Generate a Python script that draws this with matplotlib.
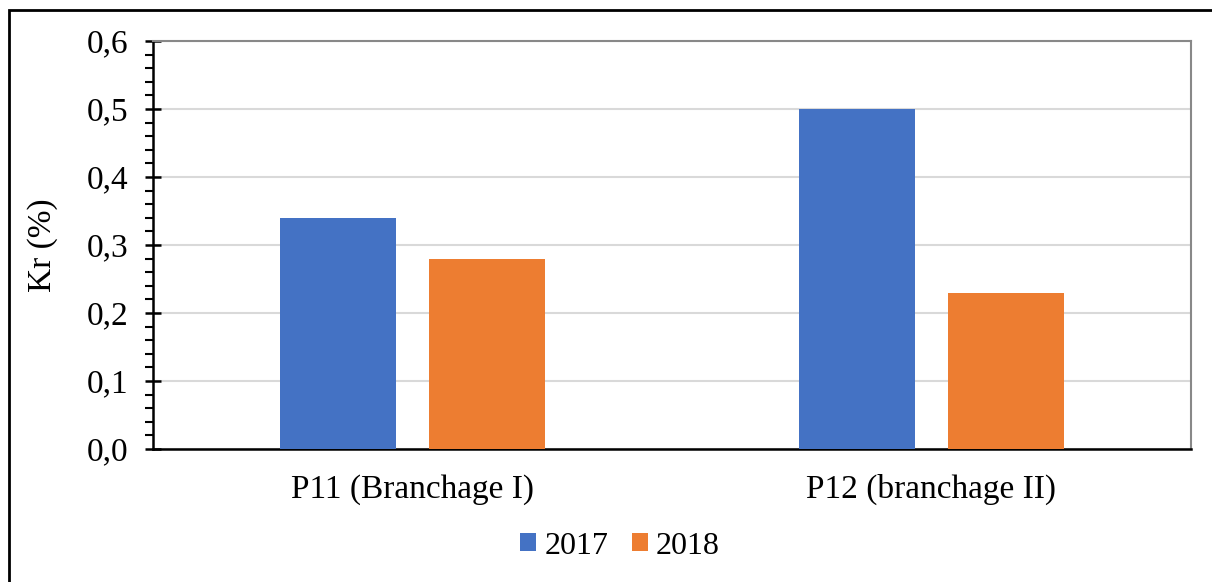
import matplotlib.pyplot as plt
import matplotlib.patches as mpatches
from matplotlib.ticker import MultipleLocator, FuncFormatter

# Data
categories = ['P11 (Branchage I)', 'P12 (branchage II)']
years = ['2017', '2018']
values_2017 = [0.34, 0.50]
values_2018 = [0.28, 0.23]
colors = ['#4472C4', '#ED7D31']

plt.rcParams['font.family'] = ['Liberation Serif', 'DejaVu Serif']
fs = 24

fig = plt.figure(figsize=(12.12, 5.82), dpi=100)
ax = fig.add_axes([153 / 1212, 1 - 449 / 582, 1038 / 1212, 408 / 582])

# Outer frame around the chart
fig.patches.append(mpatches.Rectangle((9 / 1212, -0.1), 1.2, 1 - 10 / 582 + 0.1,
                                      transform=fig.transFigure, fill=False,
                                      edgecolor='black', linewidth=2))

x = range(len(categories))
width = 0.224
offset = 0.143
ax.bar([i - offset for i in x], values_2017, width, color=colors[0], label=years[0], zorder=3)
ax.bar([i + offset for i in x], values_2018, width, color=colors[1], label=years[1], zorder=3)

ax.set_xlim(-0.5, 1.5)
ax.set_ylim(0, 0.6)
ax.set_xticks(list(x))
ax.set_xticklabels(categories, fontsize=fs)
ax.tick_params(axis='x', length=0, pad=18)

ax.yaxis.set_major_locator(MultipleLocator(0.1))
ax.yaxis.set_minor_locator(MultipleLocator(0.02))
ax.yaxis.set_major_formatter(FuncFormatter(lambda v, p: f'{v:.1f}'.replace('.', ',')))
ax.tick_params(axis='y', which='major', direction='inout', length=12, width=1.8, labelsize=fs, pad=12)
ax.tick_params(axis='y', which='minor', direction='out', length=6, width=1.5)

ax.grid(axis='y', color='#d9d9d9', linewidth=1.5, zorder=0)
ax.spines['left'].set_color('black')
ax.spines['left'].set_linewidth(1.8)
ax.spines['bottom'].set_color('black')
ax.spines['bottom'].set_linewidth(1.8)
ax.spines['top'].set_color('#888888')
ax.spines['top'].set_linewidth(1.5)
ax.spines['right'].set_color('#888888')
ax.spines['right'].set_linewidth(1.5)

ax.set_ylabel('Kr (%)', fontsize=fs, labelpad=20)

leg = fig.legend(loc='center', bbox_to_anchor=(620 / 1212, 1 - 546 / 582), ncol=2,
                 frameon=False, fontsize=23, handlelength=0.5, handleheight=0.5,
                 handletextpad=0.25, columnspacing=0.75)

fig.savefig('out.png', dpi=100)
